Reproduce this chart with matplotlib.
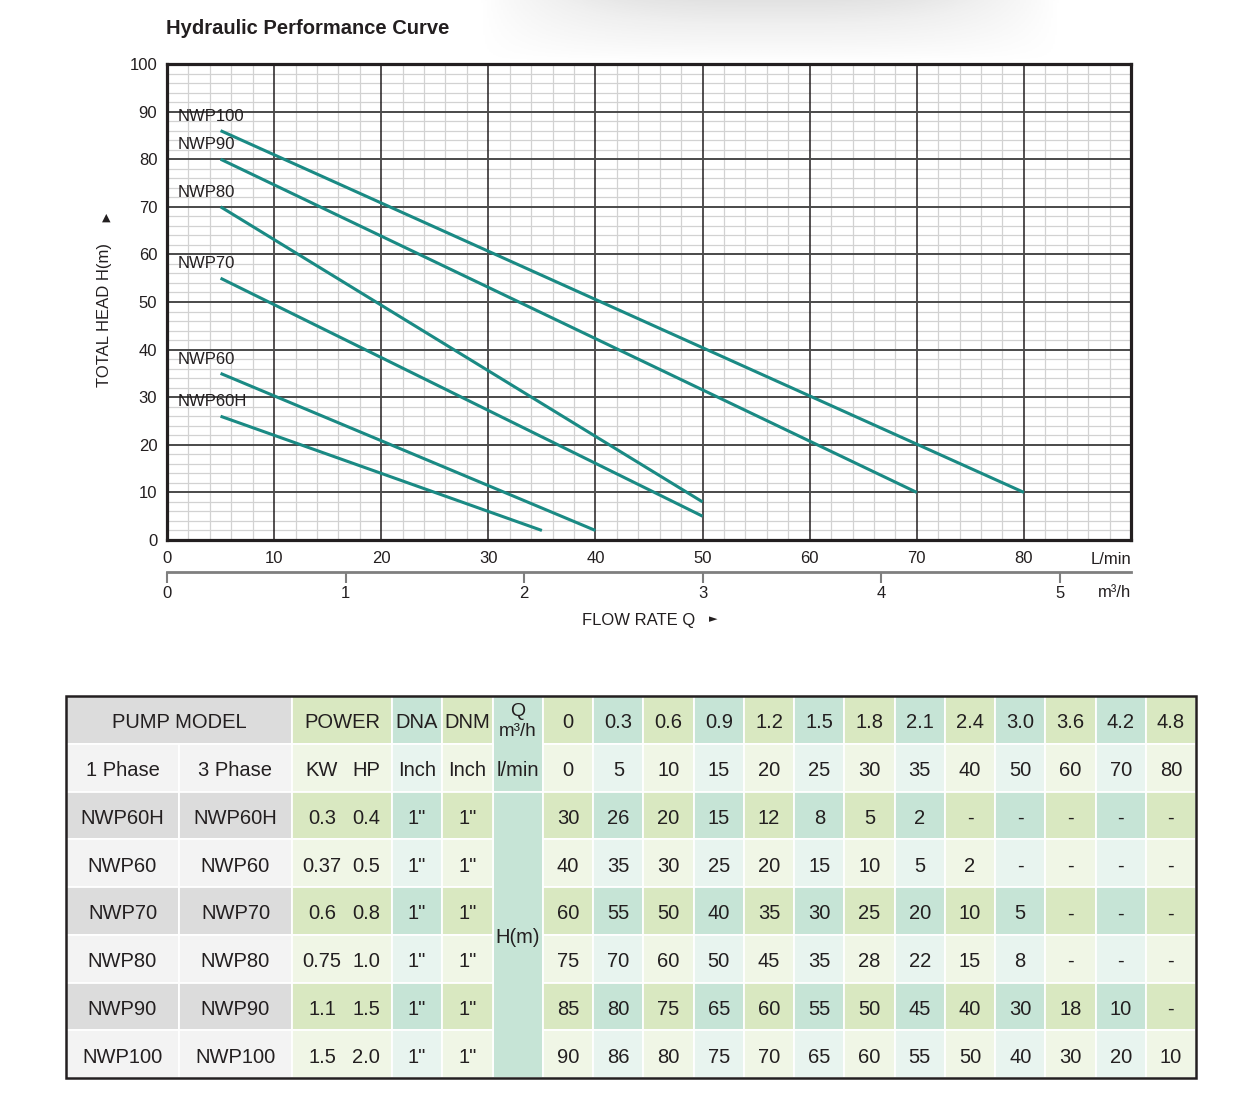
import numpy as np
import matplotlib
matplotlib.use('Agg')
import matplotlib.pyplot as plt
from matplotlib.patches import Rectangle

plt.rcParams['font.family'] = ['Liberation Sans', 'DejaVu Sans']

# ---- curve data (L/min, m)
curve_models = ['NWP100', 'NWP90', 'NWP80', 'NWP70', 'NWP60', 'NWP60H']
curve_q_start = [5, 5, 5, 5, 5, 5]
curve_h_start = [86, 80, 70, 55, 35, 26]
curve_q_end = [80, 70, 50, 50, 40, 35]
curve_h_end = [10, 10, 8, 5, 2, 2]

# ---- table data
q_m3h = ['0', '0.3', '0.6', '0.9', '1.2', '1.5', '1.8', '2.1', '2.4', '3.0', '3.6', '4.2', '4.8']
q_lmin = ['0', '5', '10', '15', '20', '25', '30', '35', '40', '50', '60', '70', '80']
models_1ph = ['NWP60H', 'NWP60', 'NWP70', 'NWP80', 'NWP90', 'NWP100']
models_3ph = ['NWP60H', 'NWP60', 'NWP70', 'NWP80', 'NWP90', 'NWP100']
power_kw = ['0.3', '0.37', '0.6', '0.75', '1.1', '1.5']
power_hp = ['0.4', '0.5', '0.8', '1.0', '1.5', '2.0']
dna = ['1"'] * 6
dnm = ['1"'] * 6
head_nwp60h = [30, 26, 20, 15, 12, 8, 5, 2, None, None, None, None, None]
head_nwp60 = [40, 35, 30, 25, 20, 15, 10, 5, 2, None, None, None, None]
head_nwp70 = [60, 55, 50, 40, 35, 30, 25, 20, 10, 5, None, None, None]
head_nwp80 = [75, 70, 60, 50, 45, 35, 28, 22, 15, 8, None, None, None]
head_nwp90 = [85, 80, 75, 65, 60, 55, 50, 45, 40, 30, 18, 10, None]
head_nwp100 = [90, 86, 80, 75, 70, 65, 60, 55, 50, 40, 30, 20, 10]
heads = [head_nwp60h, head_nwp60, head_nwp70, head_nwp80, head_nwp90, head_nwp100]

W, H = 1259, 1112
DARK = '#231f20'
LINE = '#1a8a84'
GRAY_D, GRAY_L = '#dcdcdc', '#f3f3f3'
GREEN_D, GREEN_L = '#d9e8c1', '#f0f6e6'
TEAL_D, TEAL_L = '#c6e4d6', '#e8f4ef'

fig = plt.figure(figsize=(W / 100, H / 100), dpi=100)

# background overlay in pixel units (shadow, titles, table)
bg = fig.add_axes([0, 0, 1, 1], zorder=0)
bg.set_xlim(0, W)
bg.set_ylim(H, 0)
bg.axis('off')

# soft shadow at the top
gx = np.linspace(-1, 1, 300)
gy = np.linspace(0, 1, 60)
GX, GY = np.meshgrid(gx, gy)
shade = np.clip(1 - np.abs(GX) ** 3, 0, 1) * (1 - GY) ** 0.9
bg.imshow(shade, extent=[480, 1060, 62, 0], cmap='Greys', vmin=0, vmax=5,
          aspect='auto', interpolation='bilinear')

# ---- chart
ax = fig.add_axes([167 / W, 1 - 540 / H, (1131 - 167) / W, (540 - 64) / H], zorder=1)
ax.set_xlim(0, 90)
ax.set_ylim(0, 100)
ax.set_xticks(np.arange(0, 81, 10))
ax.set_yticks(np.arange(0, 101, 10))
ax.set_xticks(np.arange(0, 91, 2), minor=True)
ax.set_yticks(np.arange(0, 101, 2), minor=True)
ax.grid(which='minor', color='#d2d2d2', lw=0.9, zorder=0)
# major grid drawn on top of the minor one
ax.vlines(np.arange(10, 90, 10), 0, 100, color=DARK, lw=1.1, zorder=1)
ax.hlines(np.arange(10, 100, 10), 0, 90, color='#4a4a4a', lw=1.4, zorder=1)
ax.set_axisbelow(True)
for s in ax.spines.values():
    s.set_linewidth(2.3)
    s.set_color(DARK)
ax.tick_params(which='both', length=0)
ax.tick_params(axis='x', labelsize=12, pad=8, labelcolor=DARK)
ax.tick_params(axis='y', labelsize=12, pad=7, labelcolor=DARK)

for i, name in enumerate(curve_models):
    ax.plot([curve_q_start[i], curve_q_end[i]], [curve_h_start[i], curve_h_end[i]],
            color=LINE, lw=2.2, solid_capstyle='butt', zorder=3)
    ax.text(1.0, curve_h_start[i] + 3, name, fontsize=12, color=DARK,
            ha='left', va='center', zorder=4)

sec = ax.secondary_xaxis(-0.067, functions=(lambda x: x * 0.06, lambda x: x / 0.06))
sec.set_xticks([0, 1, 2, 3, 4, 5])
sec.spines['bottom'].set_color('#7f7f7f')
sec.spines['bottom'].set_linewidth(2)
sec.tick_params(direction='out', length=8, width=1.5, color='#7f7f7f',
                labelsize=12, pad=2, labelcolor=DARK)

ax.text(1.0, -0.040, 'L/min', transform=ax.transAxes, ha='right', va='center',
        fontsize=12, color=DARK)
ax.text(1.0, -0.110, 'm³/h', transform=ax.transAxes, ha='right', va='center',
        fontsize=12, color=DARK)

bg.text(166, 28, 'Hydraulic Performance Curve', fontsize=14.5, fontweight='bold',
        color=DARK, ha='left', va='center')
bg.text(105, 315, 'TOTAL HEAD H(m)', rotation=90, fontsize=12, color=DARK,
        ha='center', va='center')
bg.text(106, 218, '▲', fontsize=8, color=DARK, ha='center', va='center',
        family='DejaVu Sans')
bg.text(639, 620, 'FLOW RATE Q', fontsize=12, color=DARK, ha='center', va='center')
bg.text(713, 619, '►', fontsize=8, color=DARK, ha='center', va='center',
        family='DejaVu Sans')

# ---- table
col_x = [66, 179, 292, 392, 442, 493, 543]
val_w = (1196 - 543) / 13
col_x += [543 + val_w * (k + 1) for k in range(13)]
row_h = (1078 - 696) / 8
row_y = [696 + row_h * r for r in range(9)]


def cell(c0, c1, r0, r1, color):
    bg.add_patch(Rectangle((col_x[c0], row_y[r0]), col_x[c1] - col_x[c0],
                           row_y[r1] - row_y[r0], facecolor=color,
                           edgecolor='white', lw=1.3))


def txt(x, y, s, size=14.5):
    bg.text(x, y + 3, s, fontsize=size, color=DARK, ha='center', va='center')


def cx(c0, c1=None):
    c1 = c0 + 1 if c1 is None else c1
    return (col_x[c0] + col_x[c1]) / 2


def cy(r):
    return (row_y[r] + row_y[r + 1]) / 2


# header row
cell(0, 2, 0, 1, GRAY_D)
txt(cx(0, 2), cy(0), 'PUMP MODEL')
cell(2, 3, 0, 1, GREEN_D)
txt(cx(2), cy(0), 'POWER')
cell(3, 4, 0, 1, TEAL_D)
txt(cx(3), cy(0), 'DNA')
cell(4, 5, 0, 1, GREEN_D)
txt(cx(4), cy(0), 'DNM')
cell(5, 6, 0, 2, TEAL_D)
txt(cx(5), cy(0) - 11, 'Q', 14)
txt(cx(5), cy(0) + 9, 'm³/h', 13.5)
txt(cx(5), cy(1), 'l/min')
for k in range(13):
    cell(6 + k, 7 + k, 0, 1, GREEN_D if k % 2 == 0 else TEAL_D)
    txt(cx(6 + k), cy(0), q_m3h[k])

# unit row
cell(0, 1, 1, 2, GRAY_L)
txt(cx(0), cy(1), '1 Phase')
cell(1, 2, 1, 2, GRAY_L)
txt(cx(1), cy(1), '3 Phase')
cell(2, 3, 1, 2, GREEN_L)
txt(cx(2) - 20, cy(1), 'KW')
txt(cx(2) + 24, cy(1), 'HP')
cell(3, 4, 1, 2, TEAL_L)
txt(cx(3), cy(1), 'Inch')
cell(4, 5, 1, 2, GREEN_L)
txt(cx(4), cy(1), 'Inch')
for k in range(13):
    cell(6 + k, 7 + k, 1, 2, GREEN_L if k % 2 == 0 else TEAL_L)
    txt(cx(6 + k), cy(1), q_lmin[k])

# model rows
cell(5, 6, 2, 8, TEAL_D)
txt(cx(5), (row_y[2] + row_y[8]) / 2, 'H(m)')
for m in range(6):
    r = m + 2
    dark = m % 2 == 0
    cell(0, 1, r, r + 1, GRAY_D if dark else GRAY_L)
    txt(cx(0), cy(r), models_1ph[m])
    cell(1, 2, r, r + 1, GRAY_D if dark else GRAY_L)
    txt(cx(1), cy(r), models_3ph[m])
    cell(2, 3, r, r + 1, GREEN_D if dark else GREEN_L)
    txt(cx(2) - 20, cy(r), power_kw[m])
    txt(cx(2) + 24, cy(r), power_hp[m])
    cell(3, 4, r, r + 1, TEAL_D if dark else TEAL_L)
    txt(cx(3), cy(r), dna[m])
    cell(4, 5, r, r + 1, GREEN_D if dark else GREEN_L)
    txt(cx(4), cy(r), dnm[m])
    for k in range(13):
        if k % 2 == 0:
            c = GREEN_D if dark else GREEN_L
        else:
            c = TEAL_D if dark else TEAL_L
        cell(6 + k, 7 + k, r, r + 1, c)
        v = heads[m][k]
        txt(cx(6 + k), cy(r), '-' if v is None else str(v))

bg.add_patch(Rectangle((66, 696), 1196 - 66, 1078 - 696, facecolor='none',
                       edgecolor=DARK, lw=1.8))

fig.savefig('out.png', dpi=100)
